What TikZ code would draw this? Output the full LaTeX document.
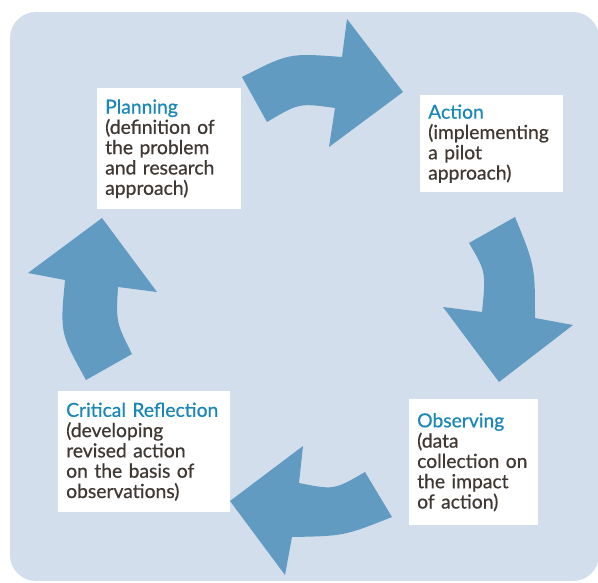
\documentclass[tikz,border=0pt]{standalone}
\usepackage{fontspec}
\setmainfont{Lato}[FakeBold=0.6]
\definecolor{bgblue}{HTML}{D3DEEC}
\definecolor{arrowblue}{HTML}{629BC2}
\definecolor{titleblue}{HTML}{1A87B7}
\definecolor{bodytext}{HTML}{403832}
\tikzset{
  stagebox/.style={fill=white, align=left, inner xsep=8pt, inner ysep=0pt,
    anchor=north west, text=bodytext, font=\fontsize{19.3}{20.3}\selectfont},
  cyclearrow/.style={fill=arrowblue, draw=none}
}
\newcommand{\ttlx}[1]{\textcolor{titleblue}{#1}}
\begin{document}
\begin{tikzpicture}[x=1pt,y=-1pt]
\useasboundingbox (0,0) rectangle (598,582);
\fill[bgblue, rounded corners=26pt] (10,12) rectangle (599,581);
% arrows
\fill[cyclearrow] (242,77) .. controls (289,53) .. (342,57) -- (347,19) -- (403,92)
  -- (329,147) -- (335,108) .. controls (299,103) .. (267,122) -- cycle;
\fill[cyclearrow] (515,217) .. controls (535,266) .. (535,318) -- (573,325) -- (499,382)
  -- (443,307) -- (482,312) .. controls (486,272) .. (469,243) -- cycle;
\fill[cyclearrow] (392,517) .. controls (344,536) .. (292,537) -- (285,575) -- (230,501)
  -- (303,446) -- (299,483) .. controls (334,490) .. (365,472) -- cycle;
\fill[cyclearrow] (86,380) .. controls (60,333) .. (65,280) -- (28,273) -- (102,218)
  -- (157,292) -- (118,287) .. controls (116,322) .. (132,354) -- cycle;
% boxes
\node[stagebox, text width=128pt, minimum height=121pt] (plan) at (97,88)
  {\ttlx{Planning}\\(definition of\\the problem\\and research\\approach)};
\node[stagebox, text width=127pt, minimum height=97pt] (act) at (420,95)
  {\ttlx{Action}\\(implementing\\a pilot\\approach)};
\node[stagebox, text width=113pt, minimum height=126pt] (obs) at (409,399)
  {\ttlx{Observing}\\(data\\collection on\\the impact\\of action)};
\node[stagebox, text width=156pt, minimum height=121pt] (refl) at (58,391)
  {\ttlx{Critical Reflection}\\(developing\\revised action\\on the basis of\\observations)};
\end{tikzpicture}
\end{document}
